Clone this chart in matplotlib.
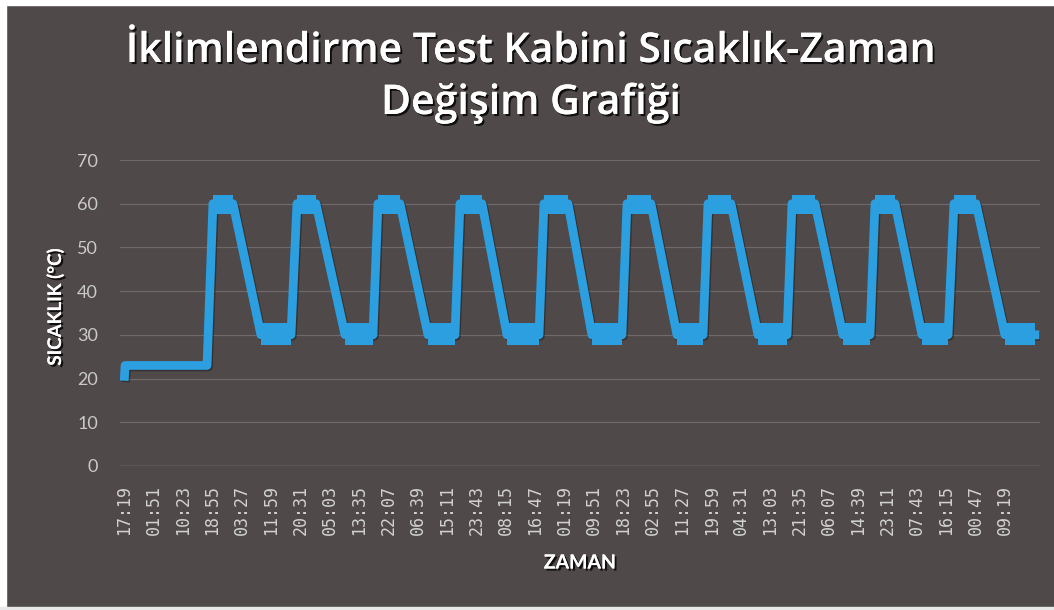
import matplotlib.pyplot as plt
import matplotlib.patheffects as pe
from matplotlib.patches import Rectangle

# corner points of the temperature trace (minute index, deg C)
t_min = [0, 10, 1440, 1543, 1892, 2380, 2904, 3008, 3340, 3846, 4334, 4421,
         4805, 5293, 5764, 5851, 6235, 6671, 7229, 7316, 7735, 8153, 8676,
         8764, 9182, 9636, 10090, 10177, 10578, 11049, 11555, 11642, 12043,
         12531, 13002, 13089, 13438, 13909, 14363, 14467, 14851, 15356, 15879]
temp = [20.5, 23, 23, 60, 60, 30, 30, 60, 60, 30, 30, 60,
        60, 30, 30, 60, 60, 30, 30, 60, 60, 30, 30,
        60, 60, 30, 30, 60, 60, 30, 30, 60, 60,
        30, 30, 60, 60, 30, 30, 60, 60, 30, 30]

# noise spread on the hot / cold plateaus
hot_band = (57.6, 62.0)
cold_band = (27.6, 32.6)

tick_labels = ["17:19", "01:51", "10:23", "18:55", "03:27", "11:59", "20:31",
               "05:03", "13:35", "22:07", "06:39", "15:11", "23:43", "08:15",
               "16:47", "01:19", "09:51", "18:23", "02:55", "11:27", "19:59",
               "04:31", "13:03", "21:35", "06:07", "14:39", "23:11", "07:43",
               "16:15", "00:47", "09:19"]
tick_step = 512

bg = "#504949"
blue = "#2c9fe0"

fig = plt.figure(figsize=(10.54, 6.10), dpi=100, facecolor=bg)
# white scan margins
fig.patches.append(Rectangle((0, 0), 6 / 1054, 1, transform=fig.transFigure, color="white", zorder=0))
fig.patches.append(Rectangle((0, 1 - 5 / 610), 1, 5 / 610, transform=fig.transFigure, color="white", zorder=0))
fig.patches.append(Rectangle((0, 0), 1, 3 / 610, transform=fig.transFigure, color="#e8e8e8", zorder=0))

ax = fig.add_axes([120 / 1054, 1 - 466 / 610, 920 / 1054, 306 / 610])
ax.set_facecolor(bg)

shadow = [pe.SimpleLineShadow(offset=(1, -1), shadow_color="#1a1a1a", alpha=0.5), pe.Normal()]

ax.plot(t_min, temp, color=blue, lw=6.3, solid_joinstyle="round", zorder=3,
        path_effects=shadow)

# plateau bands drawn over the trace
for i in range(len(t_min) - 1):
    if temp[i] == temp[i + 1] and temp[i] > 25:
        lo, hi = hot_band if temp[i] > 45 else cold_band
        ax.fill_between([t_min[i], t_min[i + 1]], lo, hi, color=blue, lw=0, zorder=4)

ax.set_ylim(0, 70)
ax.set_xlim(-78, 15967)
ax.set_yticks(range(0, 71, 10))
ax.set_xticks([k * tick_step for k in range(len(tick_labels))])
ax.set_xticklabels(tick_labels, rotation=90, family="DejaVu Sans Mono",
                   fontsize=12, color="#d2d2d2")
ax.tick_params(axis="x", length=0, pad=14)
ax.tick_params(axis="y", length=0, pad=16, labelsize=13, labelcolor="#cacaca")
for lbl in ax.get_yticklabels():
    lbl.set_family("Lato")

ax.grid(axis="y", color="#6e6868", lw=0.9)
for s in ax.spines.values():
    s.set_visible(False)
ax.axhline(0, color="#807878", lw=1, zorder=2)

title_fx = [pe.withSimplePatchShadow(offset=(1.5, -1.5), shadow_rgbFace="black", alpha=0.8), pe.Normal()]
fig.text(0.504, 1 - 51 / 610, "İklimlendirme Test Kabini Sıcaklık-Zaman", ha="center",
         va="center", color="white", fontsize=29.5, fontweight="semibold", family="Open Sans",
         path_effects=title_fx)
fig.text(0.504, 1 - 103 / 610, "Değişim Grafiği", ha="center", va="center",
         color="white", fontsize=29.5, fontweight="semibold", family="Open Sans",
         path_effects=title_fx)

fig.text(55 / 1054, 1 - 307 / 610, "SICAKLIK (°C)", rotation=90, ha="center",
         va="center", color="white", fontsize=13.5, fontweight="bold", family="Lato",
         path_effects=title_fx)
fig.text(580 / 1054, 1 - 563 / 610, "ZAMAN", ha="center", va="center",
         color="white", fontsize=14, fontweight="bold", family="Lato",
         path_effects=title_fx)

fig.savefig("out.png", dpi=100, facecolor=bg)
